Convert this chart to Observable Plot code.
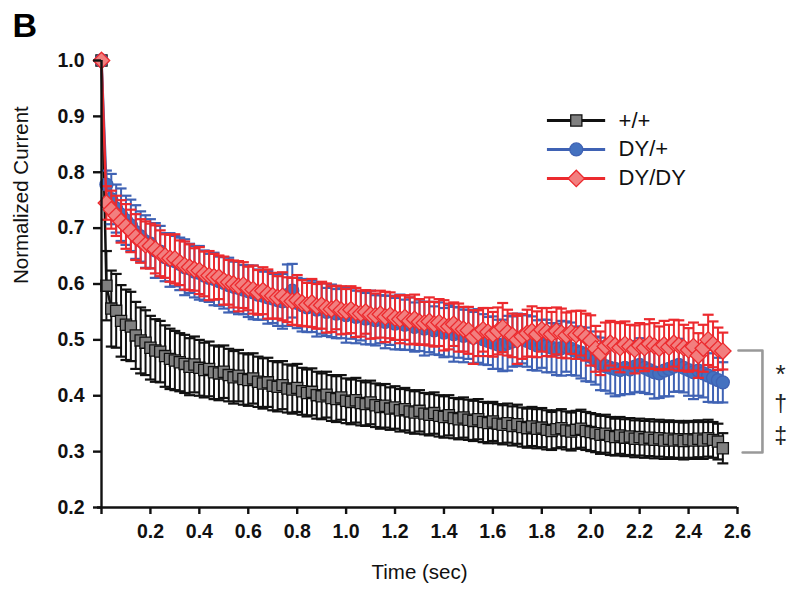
<!DOCTYPE html>
<html>
<head>
<meta charset="utf-8">
<script src="https://cdn.jsdelivr.net/npm/d3@7"></script>
<script src="https://cdn.jsdelivr.net/npm/@observablehq/plot@0.6"></script>
<style>
  html, body { margin: 0; padding: 0; background: #fff; }
  #chart svg { display: block; overflow: visible; }
</style>
</head>
<body>
<div id="chart"></div>
<script>
// ---- data ----
const time = [
  0.00,0.02,0.04,0.06,0.08,0.10,0.12,0.14,0.16,0.18,
  0.20,0.22,0.24,0.26,0.28,0.30,0.32,0.34,0.36,0.38,
  0.40,0.42,0.44,0.46,0.48,0.50,0.52,0.54,0.56,0.58,
  0.60,0.62,0.64,0.66,0.68,0.70,0.72,0.74,0.76,0.78,
  0.80,0.82,0.84,0.86,0.88,0.90,0.92,0.94,0.96,0.98,
  1.00,1.02,1.04,1.06,1.08,1.10,1.12,1.14,1.16,1.18,
  1.20,1.22,1.24,1.26,1.28,1.30,1.32,1.34,1.36,1.38,
  1.40,1.42,1.44,1.46,1.48,1.50,1.52,1.54,1.56,1.58,
  1.60,1.62,1.64,1.66,1.68,1.70,1.72,1.74,1.76,1.78,
  1.80,1.82,1.84,1.86,1.88,1.90,1.92,1.94,1.96,1.98,
  2.00,2.02,2.04,2.06,2.08,2.10,2.12,2.14,2.16,2.18,
  2.20,2.22,2.24,2.26,2.28,2.30,2.32,2.34,2.36,2.38,
  2.40,2.42,2.44,2.46,2.48,2.50,2.52,2.54
];

const wtMean = [
  1.000,0.597,0.556,0.552,0.534,0.527,0.524,0.508,0.499,0.495,
  0.486,0.481,0.479,0.471,0.466,0.463,0.460,0.457,0.452,0.456,
  0.450,0.446,0.448,0.442,0.440,0.443,0.437,0.433,0.436,0.430,
  0.428,0.431,0.425,0.422,0.424,0.418,0.416,0.419,0.413,0.411,
  0.414,0.408,0.405,0.407,0.401,0.399,0.402,0.396,0.394,0.397,
  0.391,0.389,0.392,0.387,0.385,0.388,0.383,0.380,0.382,0.377,
  0.379,0.374,0.376,0.372,0.370,0.373,0.368,0.366,0.369,0.364,
  0.362,0.365,0.360,0.358,0.361,0.357,0.355,0.358,0.353,0.351,
  0.354,0.350,0.348,0.351,0.346,0.349,0.344,0.342,0.345,0.341,
  0.343,0.339,0.337,0.340,0.342,0.338,0.336,0.339,0.341,0.337,
  0.335,0.333,0.330,0.332,0.328,0.326,0.329,0.325,0.327,0.323,
  0.326,0.322,0.325,0.321,0.324,0.320,0.323,0.320,0.322,0.319,
  0.322,0.320,0.323,0.320,0.324,0.321,0.318,0.306
];
const wtErr = [
  0.000,0.062,0.068,0.066,0.064,0.063,0.062,0.060,0.059,0.058,
  0.057,0.056,0.055,0.055,0.054,0.053,0.052,0.052,0.051,0.050,
  0.050,0.049,0.049,0.048,0.048,0.047,0.047,0.047,0.046,0.046,
  0.046,0.045,0.045,0.045,0.044,0.044,0.044,0.043,0.043,0.043,
  0.043,0.042,0.042,0.042,0.042,0.041,0.041,0.041,0.041,0.040,
  0.040,0.040,0.040,0.040,0.039,0.039,0.039,0.039,0.039,0.038,
  0.038,0.038,0.038,0.038,0.038,0.037,0.037,0.037,0.037,0.037,
  0.037,0.036,0.036,0.036,0.036,0.036,0.036,0.036,0.036,0.036,
  0.035,0.035,0.035,0.035,0.035,0.035,0.035,0.035,0.035,0.035,
  0.035,0.035,0.034,0.034,0.034,0.034,0.034,0.034,0.034,0.034,
  0.034,0.034,0.034,0.034,0.034,0.033,0.033,0.033,0.033,0.033,
  0.033,0.033,0.033,0.033,0.033,0.033,0.033,0.033,0.033,0.033,
  0.033,0.033,0.033,0.033,0.033,0.032,0.032,0.027
];

const dyHetMean = [
  1.000,0.778,0.752,0.735,0.724,0.714,0.705,0.693,0.685,0.676,
  0.672,0.660,0.658,0.648,0.643,0.641,0.636,0.630,0.628,0.622,
  0.620,0.615,0.611,0.609,0.605,0.602,0.598,0.595,0.593,0.590,
  0.587,0.585,0.581,0.579,0.576,0.574,0.571,0.569,0.580,0.588,
  0.566,0.562,0.558,0.560,0.554,0.556,0.550,0.552,0.547,0.549,
  0.544,0.547,0.541,0.543,0.538,0.540,0.535,0.537,0.532,0.535,
  0.529,0.532,0.527,0.529,0.523,0.526,0.520,0.523,0.517,0.520,
  0.513,0.516,0.510,0.513,0.507,0.510,0.504,0.507,0.501,0.498,
  0.495,0.492,0.490,0.494,0.497,0.500,0.502,0.498,0.494,0.490,
  0.493,0.489,0.486,0.483,0.485,0.488,0.484,0.480,0.477,0.474,
  0.470,0.463,0.457,0.453,0.450,0.448,0.446,0.450,0.447,0.452,
  0.455,0.450,0.446,0.442,0.440,0.445,0.448,0.452,0.455,0.450,
  0.446,0.442,0.445,0.440,0.436,0.432,0.428,0.424
];
const dyHetErr = [
  0.000,0.025,0.045,0.043,0.047,0.044,0.046,0.048,0.045,0.047,
  0.044,0.049,0.046,0.043,0.048,0.045,0.047,0.050,0.044,0.046,
  0.048,0.045,0.043,0.047,0.044,0.046,0.049,0.045,0.047,0.044,
  0.046,0.048,0.045,0.043,0.047,0.044,0.046,0.049,0.055,0.048,
  0.045,0.047,0.044,0.046,0.048,0.045,0.043,0.047,0.044,0.046,
  0.049,0.045,0.047,0.044,0.046,0.048,0.045,0.043,0.047,0.044,
  0.046,0.049,0.045,0.047,0.044,0.046,0.048,0.045,0.043,0.047,
  0.044,0.046,0.049,0.045,0.047,0.044,0.046,0.048,0.045,0.043,
  0.047,0.044,0.046,0.049,0.045,0.047,0.044,0.046,0.048,0.045,
  0.043,0.047,0.044,0.046,0.049,0.045,0.047,0.044,0.046,0.048,
  0.045,0.043,0.047,0.044,0.046,0.049,0.045,0.047,0.044,0.046,
  0.048,0.045,0.043,0.047,0.044,0.046,0.049,0.045,0.047,0.044,
  0.046,0.048,0.045,0.043,0.047,0.044,0.040,0.036
];

const dyHomMean = [
  1.000,0.745,0.733,0.722,0.712,0.703,0.695,0.684,0.677,0.670,
  0.668,0.662,0.655,0.650,0.646,0.645,0.638,0.633,0.630,0.626,
  0.624,0.618,0.615,0.613,0.612,0.606,0.603,0.600,0.596,0.598,
  0.592,0.590,0.585,0.588,0.582,0.579,0.576,0.578,0.572,0.569,
  0.571,0.566,0.563,0.566,0.560,0.562,0.557,0.555,0.558,0.553,
  0.551,0.554,0.549,0.547,0.550,0.545,0.543,0.546,0.541,0.544,
  0.539,0.537,0.540,0.534,0.537,0.532,0.530,0.533,0.528,0.531,
  0.526,0.524,0.528,0.522,0.519,0.517,0.505,0.512,0.518,0.514,
  0.510,0.516,0.522,0.513,0.508,0.500,0.506,0.512,0.515,0.510,
  0.518,0.514,0.510,0.516,0.512,0.508,0.513,0.509,0.512,0.505,
  0.499,0.484,0.476,0.488,0.494,0.490,0.486,0.492,0.488,0.483,
  0.490,0.486,0.493,0.489,0.485,0.491,0.487,0.494,0.490,0.486,
  0.482,0.488,0.472,0.485,0.500,0.492,0.484,0.480
];
const dyHomErr = [
  0.000,0.030,0.034,0.036,0.038,0.040,0.038,0.041,0.039,0.042,
  0.040,0.043,0.041,0.039,0.042,0.044,0.040,0.043,0.041,0.038,
  0.042,0.040,0.044,0.041,0.039,0.043,0.040,0.042,0.045,0.041,
  0.039,0.043,0.040,0.042,0.044,0.041,0.038,0.043,0.040,0.042,
  0.045,0.041,0.039,0.043,0.040,0.042,0.044,0.041,0.039,0.043,
  0.040,0.042,0.044,0.041,0.039,0.043,0.040,0.042,0.045,0.041,
  0.039,0.043,0.040,0.042,0.044,0.041,0.038,0.043,0.040,0.042,
  0.045,0.041,0.039,0.043,0.040,0.042,0.048,0.041,0.039,0.043,
  0.040,0.042,0.044,0.041,0.039,0.043,0.040,0.042,0.045,0.041,
  0.039,0.043,0.040,0.042,0.044,0.041,0.038,0.043,0.040,0.042,
  0.045,0.041,0.039,0.043,0.040,0.042,0.044,0.041,0.039,0.043,
  0.040,0.042,0.044,0.041,0.039,0.043,0.040,0.042,0.045,0.041,
  0.039,0.043,0.040,0.042,0.045,0.041,0.038,0.033
];

const seriesNames = ["+/+", "DY/+", "DY/DY"];
const xTicks = [0, 0.2, 0.4, 0.6, 0.8, 1.0, 1.2, 1.4, 1.6, 1.8, 2.0, 2.2, 2.4, 2.6];
const yTicks = [0.2, 0.3, 0.4, 0.5, 0.6, 0.7, 0.8, 0.9, 1.0];
const sigMarks = ["*", "\u2020", "\u2021"];

// ---- styles ----
const styles = [
  {name: seriesNames[0], line: "#111111", err: "#111111", fill: "#808080", stroke: "#111111", symbol: "square", r: 6.3},
  {name: seriesNames[1], line: "#3f62b4", err: "#3f62b4", fill: "#4471c0", stroke: "#3f62b4", symbol: "circle", r: 6.5},
  {name: seriesNames[2], line: "#ec2a2e", err: "#ec2a2e", fill: "#f27f7f", stroke: "#ec2a2e", symbol: "diamond2", r: 7.4}
];
const means = [wtMean, dyHetMean, dyHomMean];
const errs = [wtErr, dyHetErr, dyHomErr];
const tables = means.map((m, k) => time.map((t, i) => ({t, v: m[i], e: errs[k][i]})));

const capSymbol = {
  draw(ctx, size) {
    const w = Math.sqrt(size / Math.PI);
    ctx.moveTo(-w, 0); ctx.lineTo(w, 0);
  }
};

const font = "'Liberation Sans', Arial, sans-serif";
const marks = [];

tables.forEach((rows, k) => {
  const s = styles[k];
  const withErr = rows.filter(d => d.e > 0);
  marks.push(
    Plot.ruleX(withErr, {x: "t", y1: d => d.v - d.e, y2: d => d.v + d.e, stroke: s.err, strokeWidth: 2}),
    Plot.dot(withErr, {x: "t", y: d => d.v + d.e, symbol: capSymbol, r: 5.5, stroke: s.err, strokeWidth: 2.2, fill: "none"}),
    Plot.dot(withErr, {x: "t", y: d => d.v - d.e, symbol: capSymbol, r: 5.5, stroke: s.err, strokeWidth: 2.2, fill: "none"}),
    Plot.line(rows, {x: "t", y: "v", stroke: s.line, strokeWidth: 2.5}),
    Plot.dot(rows, {x: "t", y: "v", symbol: s.symbol, r: s.r, fill: s.fill, stroke: s.stroke, strokeWidth: 1.3})
  );
});

// axes
marks.push(
  Plot.ruleX([0], {stroke: "#111", strokeWidth: 2.4}),
  Plot.ruleY([0.2], {stroke: "#111", strokeWidth: 2.4, insetLeft: -4}),
  Plot.axisY({ticks: yTicks, tickFormat: d => d.toFixed(1), tickSize: 8, tickPadding: 9,
    strokeWidth: 2.4, stroke: "#111", fontSize: 19.5, fontWeight: "bold", fontFamily: font, fill: "#111", label: null}),
  Plot.axisX({ticks: xTicks, tickFormat: d => d === 0 ? "" : d.toFixed(1), tickSize: 7, tickPadding: 10,
    strokeWidth: 2.4, stroke: "#111", fontSize: 19.5, fontWeight: "bold", fontFamily: "'Liberation Sans Narrow', " + font, fill: "#111", label: null})
);

// axis titles and panel letter
marks.push(
  Plot.text(["Normalized Current"], {frameAnchor: "left", rotate: -90, dx: -80, fontSize: 20.5, fontFamily: font, fill: "#111"}),
  Plot.text(["Time (sec)"], {frameAnchor: "bottom", dy: 71, fontSize: 20.5, fontFamily: font, fill: "#111"}),
  Plot.text(["B"], {frameAnchor: "top-left", dx: -89, dy: -48, textAnchor: "start", lineAnchor: "top", fontSize: 34, fontWeight: "bold", fontFamily: font, fill: "#000"})
);

// legend (annotation, placed in data space)
const legY = [0.8927, 0.8408, 0.7889];
styles.forEach((s, i) => {
  const row = [{y: legY[i], name: s.name}];
  marks.push(
    Plot.ruleY(row, {y: "y", x1: 1.823, x2: 2.061, stroke: s.line, strokeWidth: 3}),
    Plot.dot(row, {x: 1.941, y: "y", symbol: s.symbol, r: s.r, fill: s.fill, stroke: s.stroke, strokeWidth: 1.3}),
    Plot.text(row, {x: 2.114, y: "y", text: "name", textAnchor: "start", fontSize: 22, fontFamily: font, fill: "#111"})
  );
});

// significance bracket
const bracket = [{x: 2.604, y: 0.481}, {x: 2.702, y: 0.481}, {x: 2.702, y: 0.2985}, {x: 2.621, y: 0.2985}];
const sigY = [0.437, 0.385, 0.326];
const sigRows = sigMarks.map((m, i) => ({m, y: sigY[i]}));
marks.push(
  Plot.line(bracket, {x: "x", y: "y", stroke: "#999", strokeWidth: 2.6}),
  Plot.text(sigRows.slice(0, 1), {x: 2.776, y: "y", text: "m", fontSize: 26, fontFamily: font, fill: "#222"}),
  Plot.text(sigRows.slice(1), {x: 2.776, y: "y", text: "m", fontSize: 23, fontFamily: font, fill: "#222"})
);

const chart = Plot.plot({
  width: 790,
  height: 597,
  marginLeft: 101,
  marginRight: 53,
  marginTop: 60,
  marginBottom: 90,
  x: {domain: [0, 2.6]},
  y: {domain: [0.2, 1.0]},
  style: {background: "#fff", overflow: "visible", fontFamily: font},
  marks
});
document.getElementById("chart").appendChild(chart);
</script>
</body>
</html>
